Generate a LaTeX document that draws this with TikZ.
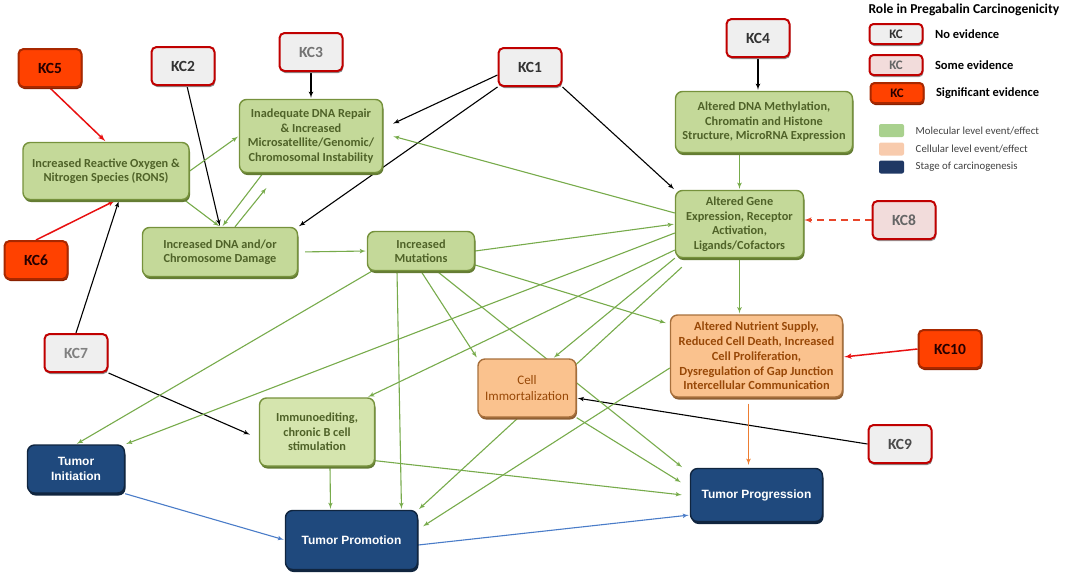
\documentclass[tikz,border=0pt]{standalone}
\usepackage{fontspec}
\setmainfont{Carlito}
\newfontfamily\stagefont{Liberation Sans}
\usepackage{tikz}
\usetikzlibrary{arrows}
\usetikzlibrary{positioning}
\usetikzlibrary{backgrounds}
\usetikzlibrary{shadows}

\definecolor{molfill}{HTML}{C4D999}
\definecolor{moldraw}{HTML}{76923C}
\definecolor{moltext}{HTML}{4F6228}
\definecolor{immfill}{HTML}{D5E5AE}
\definecolor{cellfill}{HTML}{FAC28E}
\definecolor{celldraw}{HTML}{A8703C}
\definecolor{celltext}{HTML}{984807}
\definecolor{stagefill}{HTML}{1F497D}
\definecolor{stagedraw}{HTML}{10253F}
\definecolor{kcborder}{HTML}{C00000}
\definecolor{kcgrey}{HTML}{EFEFEF}
\definecolor{kcpink}{HTML}{F2DCDB}
\definecolor{kcorange}{HTML}{FF4100}
\definecolor{kcdark}{HTML}{A82800}
\definecolor{arrowgreen}{HTML}{77AB4B}
\definecolor{arrowblue}{HTML}{4A7CC8}
\definecolor{arroworange}{HTML}{ED7D31}
\definecolor{arrowred}{HTML}{E81010}
\definecolor{arrowdash}{HTML}{E8452A}
\definecolor{legendgreen}{HTML}{A9D18E}
\definecolor{legendpeach}{HTML}{F8CBAD}
\definecolor{legendnavy}{HTML}{1F3864}

\tikzset{box/.style = {rectangle, rounded corners = 7pt, align = center,
                       line width = 1.4pt, inner sep = 2pt},
         mol/.style = {box, draw = moldraw, fill = molfill, text = moltext,
                       font = \bfseries\fontsize{12.3}{14.5}\selectfont,
                       general shadow = {fill = moldraw!85!black,
                                         shadow xshift = 1pt, shadow yshift = -2.5pt}},
         cell/.style = {box, draw = celldraw, fill = cellfill, text = celltext,
                        general shadow = {fill = celldraw!85!black,
                                          shadow xshift = 1pt, shadow yshift = -2.5pt}},
         stage/.style = {box, draw = stagedraw, fill = stagefill, text = white,
                         font = \stagefont\bfseries\fontsize{12}{14.5}\selectfont,
                         general shadow = {fill = stagedraw,
                                           shadow xshift = 1pt, shadow yshift = -2.5pt}},
         kc/.style = {box, rounded corners = 5pt, line width = 2pt,
                      minimum width = 63pt, minimum height = 38pt,
                      font = \bfseries\fontsize{15.5}{18}\selectfont},
         kcnone/.style = {kc, draw = kcborder, fill = kcgrey, text = black!80,
                          general shadow = {fill = black!45,
                                            shadow xshift = 0.8pt, shadow yshift = -2pt}},
         kcsome/.style = {kc, draw = kcborder, fill = kcpink, text = black!60,
                          general shadow = {fill = black!40,
                                            shadow xshift = 0.8pt, shadow yshift = -2pt}},
         kcsig/.style = {kc, draw = kcdark, fill = kcorange, text = black!85!red,
                         general shadow = {fill = kcdark!80!black,
                                           shadow xshift = 0.8pt, shadow yshift = -2pt}},
         legkc/.style = {minimum width = 53pt, minimum height = 20pt,
                         rounded corners = 4pt,
                         font = \bfseries\fontsize{13}{15}\selectfont},
         legtext/.style = {anchor = west, font = \bfseries\fontsize{12.5}{14}\selectfont},
         legsmall/.style = {anchor = west, text = black!75,
                            font = \fontsize{10.8}{12}\selectfont},
         swatch/.style = {rectangle, rounded corners = 2pt,
                          minimum width = 25pt, minimum height = 13pt},
         garrow/.style = {draw = arrowgreen, line width = 1.1pt, -latex', shorten > = 1pt},
         karrow/.style = {draw = black, line width = 1.1pt, -latex', shorten > = 1pt},
         rarrow/.style = {draw = arrowred, line width = 1.5pt, -latex', shorten > = 1pt},
         barrow/.style = {draw = arrowblue, line width = 1.1pt, -latex', shorten > = 1pt},
         oarrow/.style = {draw = arroworange, line width = 1.1pt, -latex'},
         darrow/.style = {draw = arrowdash, line width = 1.5pt, dash pattern = on 7pt off 5pt,
                          -latex'}}

\begin{document}
\begin{tikzpicture}[x = 1pt, y = -1pt]
  \useasboundingbox (0, 0) rectangle (1065, 574);

  \node [kcsig] (kc5) at (50, 68) {KC5};
  \node [kcnone] (kc2) at (183, 66) {KC2};
  \node [kcnone, text = black!55] (kc3) at (311, 52) {KC3};
  \node [kcnone] (kc1) at (530, 67) {KC1};
  \node [kcnone] (kc4) at (758, 38) {KC4};
  \node [kcsig] (kc6) at (36, 260) {KC6};
  \node [kcnone, text = black!50] (kc7) at (76, 353) {KC7};
  \node [kcsome] (kc8) at (904, 220) {KC8};
  \node [kcsig] (kc10) at (950, 349) {KC10};
  \node [kcnone, text = black!70] (kc9) at (900, 444) {KC9};

  \node [mol, minimum width = 166pt, minimum height = 57pt] (rons) at (106, 171)
        {Increased Reactive Oxygen \&\\Nitrogen Species (RONS)};
  \node [mol, minimum width = 143pt, minimum height = 73pt] (repair) at (311, 136)
        {Inadequate DNA Repair\\\& Increased\\Microsatellite/Genomic/\\Chromosomal Instability};
  \node [mol, minimum width = 155pt, minimum height = 49pt] (damage) at (220, 252)
        {Increased DNA and/or\\Chromosome Damage};
  \node [mol, minimum width = 107pt, minimum height = 39pt] (mutations) at (421, 251)
        {Increased\\Mutations};
  \node [mol, minimum width = 177pt, minimum height = 61pt] (methylation) at (764, 122)
        {Altered DNA Methylation,\\Chromatin and Histone\\Structure, MicroRNA Expression};
  \node [mol, minimum width = 128pt, minimum height = 67pt] (gene) at (739.5, 224)
        {Altered Gene\\Expression, Receptor\\Activation,\\Ligands/Cofactors};
  \node [mol, fill = immfill, minimum width = 115pt, minimum height = 68pt] (immuno) at (317, 432)
        {Immunoediting,\\chronic B cell\\stimulation};
  \node [cell, font = \fontsize{13}{16}\selectfont,
         minimum width = 98pt, minimum height = 58pt] (immortal) at (527, 388)
        {Cell\\Immortalization};
  \node [cell, font = \bfseries\fontsize{12.4}{14.7}\selectfont,
         minimum width = 172pt, minimum height = 82pt] (nutrient) at (756.5, 356)
        {Altered Nutrient Supply,\\Reduced Cell Death, Increased\\Cell Proliferation,\\Dysregulation of Gap Junction\\Intercellular Communication};
  \node [stage, minimum width = 97pt, minimum height = 48pt] (initiation) at (76, 469)
        {Tumor\\Initiation};
  \node [stage, minimum width = 132pt, minimum height = 59pt] (promotion) at (351.5, 540)
        {Tumor Promotion};
  \node [stage, minimum width = 132pt, minimum height = 53pt] (progression) at (756.5, 495)
        {Tumor Progression};

  \node [legtext, font = \bfseries\fontsize{13.6}{15}\selectfont] (legtitle) at (865, 10)
        {Role in Pregabalin Carcinogenicity};
  \node [kcnone, legkc] (legnone) at (896, 34) {KC};
  \node [kcsome, legkc] (legsome) at (896, 65) {KC};
  \node [kcsig, legkc] (legsig) at (897, 93) {KC};
  \node [legtext, right = 8pt of legnone] (legnonetext) {No evidence};
  \node [legtext, right = 8pt of legsome] (legsometext) {Some evidence};
  \node [legtext, right = 8pt of legsig] (legsigtext) {Significant evidence};
  \node [swatch, fill = legendgreen] (swmol) at (891.5, 130.5) {};
  \node [swatch, fill = legendpeach] (swcell) at (891.5, 149) {};
  \node [swatch, fill = legendnavy] (swstage) at (891.5, 167) {};
  \node [legsmall, right = 8pt of swmol] (swmoltext) {Molecular level event/effect};
  \node [legsmall, right = 8pt of swcell] (swcelltext) {Cellular level event/effect};
  \node [legsmall, right = 8pt of swstage] (swstagetext) {Stage of carcinogenesis};

  \begin{scope}[on background layer]
    \draw [rarrow] (kc5.south) -- (rons.north);
    \draw [rarrow] (kc6.north) -- ([xshift = 10pt] rons.south);
    \draw [rarrow] (kc10.west) -- ([yshift = -1pt] nutrient.east);
    \draw [darrow] (kc8.west) -- (kc8.west -| gene.east);

    \draw [karrow] (kc7.north) -- ([xshift = 13pt] rons.south);
    \draw [karrow] (kc7.south east) -- ([xshift = -8pt, yshift = -3pt] immuno.west);
    \draw [karrow] ([xshift = 4pt] kc2.south) -- (damage.north);
    \draw [karrow] (kc3.south) -- (repair.north);
    \draw [karrow] ([yshift = -8pt] kc1.west) -- ([xshift = 9pt, yshift = 12pt] repair.east);
    \draw [karrow] (kc1.south west) -- (damage.north east);
    \draw [karrow] (kc1.south east) -- (gene.north west);
    \draw [karrow] (kc4.south) -- (kc4.south |- methylation.north);
    \draw [karrow] (kc9.west) -- ([yshift = -10pt] immortal.east);

    \draw [garrow] (rons.east) -- (repair.west);
    \draw [garrow] ([xshift = -5pt] rons.south east) -- (damage.north);
    \draw [garrow] ([xshift = -48pt] repair.south) -- ([xshift = 2pt] damage.north);
    \draw [garrow] ([xshift = 15pt] damage.north) -- ([xshift = -44pt, yshift = -14pt] repair.south);
    \draw [garrow, shorten < = 7pt] (damage.east) -- (mutations.west);
    \draw [garrow] ([yshift = 11pt] gene.west) -- ([xshift = 9pt] repair.east);
    \draw [garrow] (mutations.east) -- (gene.west);
    \draw [garrow] (methylation.south -| gene.north) -- (gene.north);
    \draw [garrow] (gene.south) -- (gene.south |- nutrient.north);
    \draw [garrow] ([yshift = -9pt] gene.west) -- (initiation.north east);
    \draw [garrow] ([xshift = 5pt] mutations.south west) -- (initiation.north);
    \draw [garrow] ([yshift = -26pt] gene.west) -- ([xshift = -8pt] immuno.north east);
    \draw [garrow] (gene.south west) -- ([xshift = 26pt] immortal.north);
    \draw [garrow] ([xshift = 7pt, yshift = -9pt] gene.south west) -- (promotion.north east);
    \draw [garrow] ([yshift = -12pt] nutrient.west) -- ([xshift = 4pt, yshift = -17pt] promotion.north east);
    \draw [garrow] ([xshift = -24pt] mutations.south) -- ([xshift = 50pt] promotion.north);
    \draw [garrow] (mutations.south) -- (immortal.north west);
    \draw [garrow] ([xshift = 16pt] mutations.south) -- ([xshift = -7pt] progression.north west);
    \draw [garrow] ([yshift = -14pt] mutations.east) -- ([xshift = -3pt, yshift = -9pt] nutrient.north west);
    \draw [garrow] (immortal.south east) -- ([xshift = -8pt, yshift = -15pt] progression.north west);
    \draw [garrow] ([xshift = 13pt] immuno.south) -- ([xshift = -21pt] promotion.north);
    \draw [garrow] ([yshift = 6pt] immuno.south east) -- ([xshift = -7pt] progression.west);

    \draw [oarrow, shorten < = 6pt, shorten > = 3pt] ([xshift = -8pt] nutrient.south) -- ([xshift = -8pt] progression.north);

    \draw [barrow] (initiation.south east) -- (promotion.west);
    \draw [barrow] ([yshift = -5pt] promotion.east) -- ([yshift = -20pt] progression.west);
  \end{scope}
\end{tikzpicture}
\end{document}
